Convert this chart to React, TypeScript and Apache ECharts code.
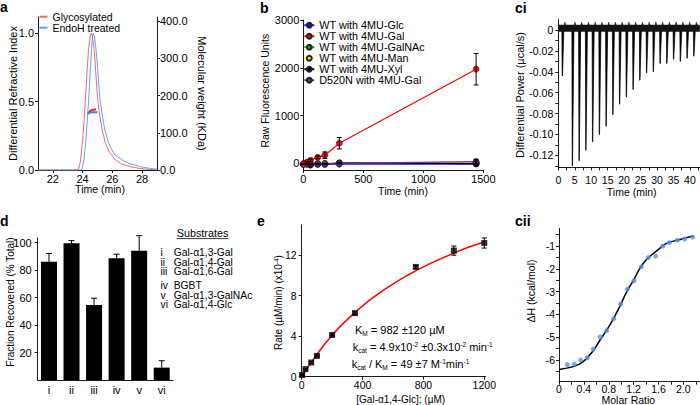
import React, { useEffect, useRef } from 'react';
import * as echarts from 'echarts';

const FONT = "'Liberation Sans', Arial, Helvetica, sans-serif";

// ---------- Panel a: SEC-MALS ----------
const aGlyTime = [21, 23.6, 23.72, 23.85, 24.0, 24.1, 24.18, 24.3, 24.4, 24.5, 24.58, 24.66, 24.75, 24.85, 24.95, 25.03, 25.15, 25.3, 25.53, 25.8, 26.2, 26.6, 27.2, 27.8, 28.5, 29];
const aGlyRI = [0, 0, 0.005, 0.06, 0.22, 0.36, 0.5, 0.72, 0.88, 0.97, 1.0, 0.98, 0.9, 0.77, 0.6, 0.5, 0.4, 0.3, 0.195, 0.13, 0.073, 0.045, 0.024, 0.012, 0.004, 0.002];
const aEndoTime = [21, 23.85, 23.95, 24.1, 24.2, 24.3, 24.4, 24.5, 24.6, 24.66, 24.72, 24.8, 24.9, 25.0, 25.1, 25.19, 25.35, 25.5, 25.75, 26.1, 26.66, 27.2, 27.9, 28.5, 29];
const aEndoRI = [0, 0, 0.005, 0.08, 0.2, 0.34, 0.5, 0.7, 0.88, 0.97, 1.0, 0.97, 0.88, 0.76, 0.6, 0.5, 0.38, 0.29, 0.195, 0.12, 0.073, 0.045, 0.024, 0.012, 0.006];
const aGlyMwTime = [24.38, 24.45, 24.6, 24.75, 24.9];
const aGlyMw = [150, 156, 160, 162, 163];
const aEndoMwTime = [24.35, 24.45, 24.6, 24.8, 25.0];
const aEndoMw = [151, 154, 155, 155, 155];
const aXTicks = [22, 24, 26, 28];
const aLeftTicks = [0, 0.5, 1.0];
const aRightTicks = [0, 100, 200, 300, 400];

// ---------- Panel b: fluorescence ----------
const bNames = ['WT with 4MU-Glc', 'WT with 4MU-Gal', 'WT with 4MU-GalNAc', 'WT with 4MU-Man', 'WT with 4MU-Xyl', 'D520N with 4MU-Gal'];
const bColors = ['#1414ff', '#ff0000', '#00b400', '#ffff00', '#000000', '#7a2aa6'];
const bTime = [0, 30, 60, 120, 180, 300, 1440];
const bGlc = [-25, -20, -25, -25, -25, -20, -15];
const bGal = [-15, 25, 65, 125, 170, 420, 1970];
const bGalErr = [10, 20, 25, 30, 70, 120, 330];
const bGalNAc = [-15, -10, -10, -10, -5, 0, 5];
const bMan = [-10, -5, -5, 0, 0, 5, 10];
const bXyl = [-10, -15, -40, -15, -15, 10, -5];
const bXylErr = [5, 10, 15, 15, 15, 15, 50];
const bD520N = [-20, -15, -15, -10, -10, 0, 35];
const bD520NErr = [5, 5, 5, 5, 5, 10, 50];
const bYTicks = [0, 1000, 2000, 3000];

// ---------- Panel ci: ITC thermogram ----------
const ciInjTime = [1.2, 4.25, 6.3, 8.35, 10.4, 12.45, 14.5, 16.55, 18.6, 20.65, 22.7, 24.75, 26.8, 28.85, 30.9, 32.95, 35.0, 37.05, 39.1, 41.15];
const ciPeak = [-0.044, -0.130, -0.125, -0.115, -0.107, -0.100, -0.092, -0.081, -0.071, -0.064, -0.057, -0.048, -0.041, -0.040, -0.032, -0.032, -0.028, -0.030, -0.027, -0.025];
const ciBaseTime = [0, 43];
const ciBase = [0.0016, 0.0016];
const ciXLabels = [0, 5, 10, 15, 20, 25, 30, 35, 40];
const ciXTicks = [0, 2.5, 5, 7.5, 10, 12.5, 15, 17.5, 20, 22.5, 25, 27.5, 30, 32.5, 35, 37.5, 40, 42.5];
const ciYLabels = [0, -0.02, -0.04, -0.06, -0.08, -0.1, -0.12];
const ciYTicks = [0, -0.01, -0.02, -0.03, -0.04, -0.05, -0.06, -0.07, -0.08, -0.09, -0.1, -0.11, -0.12, -0.13];

// ---------- Panel d: fraction recovered ----------
const dCats = ['i', 'ii', 'iii', 'iv', 'v', 'vi'];
const dVals = [86, 99.4, 54.5, 88.5, 94, 9];
const dErr = [6, 2, 5, 3, 11, 5];
const dYTicks = [20, 40, 60, 80, 100];
const dSubstrates = ['Gal-α1,3-Gal', 'Gal-α1,4-Gal', 'Gal-α1,6-Gal', 'BGBT', 'Gal-α1,3-GalNAc', 'Gal-α1,4-Glc'];

// ---------- Panel e: kinetics ----------
const eConc = [3, 25, 62.5, 100, 200, 350, 750, 1000, 1200];
const eRate = [0.17, 0.75, 1.4, 2.05, 4.12, 6.28, 10.84, 12.45, 13.2];
const eErr = [0.05, 0.05, 0.1, 0.1, 0.1, 0.15, 0.15, 0.45, 0.5];
const eFitConc = [0, 100, 200, 300, 400, 500, 600, 700, 800, 900, 1000, 1100, 1200];
const eFitRate = [0, 2.2, 4.1, 5.65, 7.0, 8.15, 9.15, 10.05, 10.85, 11.55, 12.2, 12.8, 13.3];
const eXTicks = [0, 400, 800, 1200];

// ---------- Panel cii: ITC isotherm ----------
const ciiRatio = [0.134, 0.246, 0.348, 0.455, 0.552, 0.664, 0.766, 0.879, 0.991, 1.099, 1.206, 1.324, 1.436, 1.554, 1.667, 1.774, 1.902, 2.02, 2.149];
const ciiDH = [-6.2, -6.18, -6.0, -5.9, -5.52, -4.99, -4.71, -4.19, -3.54, -2.89, -2.52, -1.91, -1.51, -1.44, -1.0, -0.85, -0.74, -0.69, -0.61];
const ciiFitRatio = [0, 0.23, 0.39, 0.55, 0.66, 0.77, 0.87, 0.98, 1.09, 1.2, 1.3, 1.41, 1.52, 1.62, 1.73, 1.95, 2.16];
const ciiFitDH = [-6.41, -6.29, -6.07, -5.59, -5.12, -4.68, -4.22, -3.63, -3.0, -2.49, -1.98, -1.58, -1.32, -1.1, -0.88, -0.71, -0.56];
const ciiXLabels = [0, 0.4, 0.8, 1.2, 1.6, 2.0];
const ciiXTicks = [0, 0.2, 0.4, 0.6, 0.8, 1.0, 1.2, 1.4, 1.6, 1.8, 2.0, 2.2];
const ciiYLabels = [-6, -5, -4, -3, -2, -1];
const ciiYTicks = [-6.5, -6, -5.5, -5, -4.5, -4, -3.5, -3, -2.5, -2, -1.5, -1, -0.5];

const zip = (xs: number[], ys: number[]) => xs.map((x, i) => [x, ys[i]]);
const plain = (v: number) => String(v);

function errorBars(xi: number, yi: number, xs: number[], ys: number[], errs: number[], cap: number, upOnly = false, z = 5) {
  const data = xs.map((x, i) => [x, upOnly ? ys[i] : ys[i] - errs[i], ys[i] + errs[i]]);
  return {
    type: 'custom',
    xAxisIndex: xi,
    yAxisIndex: yi,
    data,
    z,
    silent: true,
    renderItem: (_p: any, api: any) => {
      const x = api.value(0);
      const lo = api.coord([x, api.value(1)]);
      const hi = api.coord([x, api.value(2)]);
      const st = { stroke: '#000', lineWidth: 1 };
      const children: any[] = [
        { type: 'line', shape: { x1: lo[0], y1: lo[1], x2: hi[0], y2: hi[1] }, style: st },
        { type: 'line', shape: { x1: hi[0] - cap, y1: hi[1], x2: hi[0] + cap, y2: hi[1] }, style: st },
      ];
      if (!upOnly) {
        children.push({ type: 'line', shape: { x1: lo[0] - cap, y1: lo[1], x2: lo[0] + cap, y2: lo[1] }, style: st });
      }
      return { type: 'group', children };
    },
  };
}

const lbl = (size: number, margin: number, extra: any = {}) => ({
  fontSize: size, color: '#000', fontFamily: FONT, margin, lineHeight: size, ...extra,
});
const axLine = { onZero: false, lineStyle: { color: '#1a1a1a', width: 1 } };
const tick = (extra: any = {}) => ({ length: 3, lineStyle: { color: '#1a1a1a' }, ...extra });
const nameStyle = (size: number) => ({ fontSize: size, color: '#000', fontFamily: FONT, lineHeight: size });

function txt(x: number, y: number, text: string, size: number, extra: any = {}, styleExtra: any = {}) {
  return {
    type: 'text', x, y, silent: true, ...extra,
    style: { text, fontSize: size, lineHeight: size, fontFamily: FONT, fill: '#000', align: 'center', verticalAlign: 'middle', ...styleExtra },
  };
}

export default function App() {
  const ref = useRef<HTMLDivElement>(null);
  useEffect(() => {
    if (!ref.current) return;
    const chart = echarts.init(ref.current, undefined, { renderer: 'svg' });

    const grids = [
      { left: 38, top: 17, width: 119, height: 153 },
      { left: 303.3, top: 20, width: 180, height: 150 },
      { left: 558.3, top: 19.55, width: 141.5, height: 147.85 },
      { left: 37.7, top: 238, width: 135.3, height: 142 },
      { left: 301.7, top: 224.8, width: 184.1, height: 151.9 },
      { left: 559, top: 228.3, width: 141, height: 153.4 },
    ];

    const xAxis: any[] = [
      { gridIndex: 0, type: 'value', min: 21, max: 29, axisLine: axLine, axisTick: tick({ customValues: aXTicks }), axisLabel: lbl(11, 3, { customValues: aXTicks, formatter: plain }), splitLine: { show: false } },
      { gridIndex: 1, type: 'value', min: 0, max: 1500, interval: 500, axisLine: axLine, axisTick: tick(), axisLabel: lbl(11, 3.5, { formatter: plain }), splitLine: { show: false } },
      { gridIndex: 2, type: 'value', min: 0, max: 43, axisLine: axLine, axisTick: tick({ customValues: ciXTicks }), axisLabel: lbl(10.5, 7, { customValues: ciXLabels, formatter: plain }), splitLine: { show: false } },
      { gridIndex: 3, type: 'category', data: dCats, axisLine: { lineStyle: { color: '#1a1a1a' } }, axisTick: { show: false }, axisLabel: lbl(11, 4) },
      { gridIndex: 4, type: 'value', min: 0, max: 1210, axisLine: axLine, axisTick: tick({ customValues: eXTicks }), axisLabel: lbl(10.5, 3, { customValues: eXTicks, formatter: plain }), splitLine: { show: false } },
      { gridIndex: 5, type: 'value', min: 0, max: 2.267, axisLine: axLine, axisTick: tick({ customValues: ciiXTicks }), axisLabel: lbl(10.5, 2, { customValues: ciiXLabels, formatter: (v: number) => (v === 0 ? '0' : v.toFixed(1)) }), splitLine: { show: false } },
    ];

    const yAxis: any[] = [
      {
        gridIndex: 0, type: 'value', min: 0, max: 1.117,
        name: 'Differential Refractive Index', nameLocation: 'middle', nameGap: 20, nameMoveOverlap: false, nameTextStyle: nameStyle(11),
        axisLine: { show: true, ...axLine }, axisTick: tick({ show: true, customValues: aLeftTicks }),
        axisLabel: lbl(11, 4, { customValues: aLeftTicks, formatter: (v: number) => v.toFixed(1) }), splitLine: { show: false },
      },
      {
        gridIndex: 0, type: 'value', position: 'right', min: 0, max: 411,
        name: 'Molecular weight (KDa)', nameLocation: 'middle', nameGap: 39.5, nameRotate: -90, nameMoveOverlap: false, nameTextStyle: nameStyle(11),
        axisLine: { show: true, ...axLine }, axisTick: tick({ show: true, customValues: aRightTicks }),
        axisLabel: lbl(11, 3, { customValues: aRightTicks, formatter: (v: number) => v.toFixed(1) }), splitLine: { show: false },
      },
      { gridIndex: 1, type: 'value', min: -140, max: 3000, axisLine: { show: true, ...axLine }, axisTick: tick({ show: true, customValues: bYTicks }), axisLabel: lbl(11, 4, { customValues: bYTicks, formatter: plain }), splitLine: { show: false } },
      { gridIndex: 2, type: 'value', min: -0.1315, max: 0.01, axisLine: { show: true, ...axLine }, axisTick: tick({ show: true, customValues: ciYTicks }), axisLabel: lbl(10.5, 5, { customValues: ciYLabels, formatter: (v: number) => (v === 0 ? '0' : v.toFixed(2)) }), splitLine: { show: false } },
      { gridIndex: 3, type: 'value', min: 0, max: 103.3, axisLine: { show: true, ...axLine }, axisTick: tick({ show: true, customValues: dYTicks }), axisLabel: lbl(11, 6, { customValues: dYTicks, formatter: plain }), splitLine: { show: false } },
      { gridIndex: 4, type: 'value', min: 0, max: 15, interval: 4, axisLine: { show: true, ...axLine }, axisTick: tick({ show: true }), axisLabel: lbl(10.5, 5, { showMaxLabel: false, formatter: plain }), splitLine: { show: false } },
      { gridIndex: 5, type: 'value', min: -6.95, max: -0.22, axisLine: { show: true, ...axLine }, axisTick: tick({ show: true, customValues: ciiYTicks }), axisLabel: lbl(10.5, 4, { customValues: ciiYLabels, formatter: plain }), splitLine: { show: false } },
    ];

    const bSeriesVals = [bGlc, bGal, bGalNAc, bMan, bXyl, bD520N];

    const series: any[] = [
      // a
      { name: 'Glycosylated', type: 'line', xAxisIndex: 0, yAxisIndex: 0, data: zip(aGlyTime, aGlyRI), symbol: 'none', color: '#f46a6a', lineStyle: { width: 1, color: '#f46a6a' } },
      { name: 'EndoH treated', type: 'line', xAxisIndex: 0, yAxisIndex: 0, data: zip(aEndoTime, aEndoRI), symbol: 'none', color: '#62a2f4', lineStyle: { width: 1, color: '#62a2f4' } },
      { name: 'Glycosylated MW', type: 'line', xAxisIndex: 0, yAxisIndex: 1, data: zip(aGlyMwTime, aGlyMw), symbol: 'none', smooth: true, lineStyle: { width: 2, color: '#ff1a1a' } },
      { name: 'EndoH treated MW', type: 'line', xAxisIndex: 0, yAxisIndex: 1, data: zip(aEndoMwTime, aEndoMw), symbol: 'none', smooth: true, lineStyle: { width: 2, color: '#2b7df2' } },
      // b
      ...bNames.map((n, i) => ({
        name: n, type: 'line', xAxisIndex: 1, yAxisIndex: 2, data: zip(bTime, bSeriesVals[i]),
        symbol: 'circle', symbolSize: 6, color: bColors[i],
        lineStyle: { width: 1.2, color: bColors[i] },
        itemStyle: { color: bColors[i], borderColor: '#222', borderWidth: 0.6 },
        z: i === 1 ? 3 : 2,
      })),
      errorBars(1, 2, bTime, bGal, bGalErr, 2.5),
      errorBars(1, 2, bTime, bXyl, bXylErr, 2.5),
      errorBars(1, 2, bTime, bD520N, bD520NErr, 2.5),
      // ci
      { name: 'baseline', type: 'line', xAxisIndex: 2, yAxisIndex: 3, data: zip(ciBaseTime, ciBase), symbol: 'none', lineStyle: { width: 7, color: '#141414' } },
      {
        name: 'injections', type: 'custom', xAxisIndex: 2, yAxisIndex: 3, data: zip(ciInjTime, ciPeak), silent: true,
        renderItem: (_p: any, api: any) => {
          const t = api.value(0);
          const d = api.value(1);
          const spike = [[t - 0.12, 0.001], [t - 0.02, d], [t + 0.08, d], [t + 0.5, 0.001]].map((p) => api.coord(p));
          const bump = [[t + 0.45, 0.002], [t + 0.8, 0.0075], [t + 1.3, 0.002]].map((p) => api.coord(p));
          return {
            type: 'group',
            children: [
              { type: 'polygon', shape: { points: spike }, style: { fill: '#000', stroke: '#000', lineWidth: 0.7 } },
              { type: 'polygon', shape: { points: bump }, style: { fill: '#1a1a1a', stroke: '#1a1a1a', lineWidth: 0.6 } },
            ],
          };
        },
      },
      // d
      { name: 'Fraction', type: 'bar', xAxisIndex: 3, yAxisIndex: 4, data: dVals, barWidth: 16, itemStyle: { color: '#000' } },
      errorBars(3, 4, dCats.map((_, i) => i), dVals, dErr, 3, true),
      // e
      { name: 'fit', type: 'line', xAxisIndex: 4, yAxisIndex: 5, data: zip(eFitConc, eFitRate), smooth: true, symbol: 'none', lineStyle: { width: 1.5, color: '#ff0000' }, z: 2 },
      errorBars(4, 5, eConc, eRate, eErr, 2.5, false, 3),
      { name: 'rate', type: 'scatter', xAxisIndex: 4, yAxisIndex: 5, data: zip(eConc, eRate), symbol: 'rect', symbolSize: 6, itemStyle: { color: '#000' }, z: 4 },
      // cii
      { name: 'isotherm fit', type: 'line', xAxisIndex: 5, yAxisIndex: 6, data: zip(ciiFitRatio, ciiFitDH), smooth: 0.4, symbol: 'none', lineStyle: { width: 1.5, color: '#000' }, z: 2 },
      { name: 'ΔH', type: 'scatter', xAxisIndex: 5, yAxisIndex: 6, data: zip(ciiRatio, ciiDH), symbol: 'circle', symbolSize: 5, itemStyle: { color: '#5b8fe6' }, z: 3 },
    ];

    const rot = Math.PI / 2;
    const sub = { fontSize: 6.5, fontFamily: FONT, verticalAlign: 'bottom', fill: '#000' };
    const sup = { fontSize: 6.5, fontFamily: FONT, verticalAlign: 'top', fill: '#000' };
    const t11 = { fontSize: 11, fontFamily: FONT, lineHeight: 13, fill: '#000' };
    const subRows = [252.5, 262, 271.5, 285.5, 295, 304.5];

    const graphic: any[] = [
      // panel letters
      txt(0, 6.5, 'a', 14, {}, { fontWeight: 'bold', align: 'left' }),
      txt(260, 7.5, 'b', 14, {}, { fontWeight: 'bold', align: 'left' }),
      txt(515, 7.5, 'ci', 14, {}, { fontWeight: 'bold', align: 'left' }),
      txt(0, 220.5, 'd', 14, {}, { fontWeight: 'bold', align: 'left' }),
      txt(257, 220.5, 'e', 14, {}, { fontWeight: 'bold', align: 'left' }),
      txt(515, 220.5, 'cii', 14, {}, { fontWeight: 'bold', align: 'left' }),
      // axis names
      txt(100, 189, 'Time (min)', 10.5),
      txt(265, 90.7, 'Raw Fluorescence Units', 10.5, { rotation: rot }),
      txt(403, 190.5, 'Time (min)', 10.5),
      txt(520, 95, 'Differential Power (µcal/s)', 11, { rotation: rot }),
      txt(631.7, 192, 'Time (min)', 10.5),
      txt(10, 302, 'Fraction Recovered (% Total)', 10, { rotation: rot }),
      {
        type: 'text', x: 278, y: 302.5, rotation: rot, silent: true,
        style: {
          text: '{t|Rate (µM/min) (x10}{s|-4}{t|)}', align: 'center', verticalAlign: 'middle',
          rich: { t: { fontSize: 10, fontFamily: FONT, lineHeight: 11, fill: '#000' }, s: sup },
        },
      },
      txt(400.7, 399, '[Gal-α1,4-Glc]; (µM)', 10),
      txt(531, 291, 'ΔH (kcal/mol)', 10.5, { rotation: rot }),
      txt(628.3, 400, 'Molar Ratio', 10.5),
      // substrates key
      txt(176.7, 233, 'Substrates', 10.8, {}, { align: 'left' }),
      { type: 'line', silent: true, shape: { x1: 176.7, y1: 238.6, x2: 228.5, y2: 238.6 }, style: { stroke: '#000', lineWidth: 0.8 } },
      ...dCats.map((c, i) => txt(160.5, subRows[i], c, 10.3, {}, { align: 'left', lineHeight: 8 })),
      ...dSubstrates.map((s, i) => txt(173.7, subRows[i], s, 10.3, {}, { align: 'left', lineHeight: 8 })),
      // kinetic constants
      {
        type: 'text', x: 355, y: 330, silent: true,
        style: { text: '{t|K}{s|M}{t| = 982 ±120 µM}', align: 'left', verticalAlign: 'middle', rich: { t: t11, s: sub } },
      },
      {
        type: 'text', x: 352.7, y: 347.3, silent: true,
        style: { text: '{t|k}{s|cat}{t| = 4.9x10}{p|-2}{t| ±0.3x10}{p|-2}{t| min}{p|-1}', align: 'left', verticalAlign: 'middle', rich: { t: t11, s: sub, p: sup } },
      },
      {
        type: 'text', x: 351.7, y: 364.3, silent: true,
        style: { text: '{t|k}{s|cat}{t| / K}{s|M}{t| = 49 ±7 M}{p|-1}{t|min}{p|-1}', align: 'left', verticalAlign: 'middle', rich: { t: t11, s: sub, p: sup } },
      },
    ];

    chart.setOption({
      animation: false,
      backgroundColor: '#ffffff',
      textStyle: { fontFamily: FONT },
      grid: grids,
      xAxis,
      yAxis,
      legend: [
        {
          left: 38.5, top: 11.2, orient: 'vertical', padding: 0, itemGap: 0, itemWidth: 8, itemHeight: 2,
          data: ['Glycosylated', 'EndoH treated'],
          textStyle: { fontSize: 10.5, lineHeight: 11, color: '#000', fontFamily: FONT },
          selectedMode: false,
        },
        {
          left: 303.3, top: 19.7, orient: 'vertical', padding: 0, itemGap: 0, itemWidth: 10, itemHeight: 6,
          data: bNames,
          textStyle: { fontSize: 10.8, lineHeight: 10.67, color: '#000', fontFamily: FONT },
          selectedMode: false,
        },
      ],
      series,
      graphic,
    });
    return () => chart.dispose();
  }, []);

  return <div ref={ref} style={{ position: 'absolute', left: 0, top: 0, width: 700, height: 405, background: '#fff' }} />;
}
